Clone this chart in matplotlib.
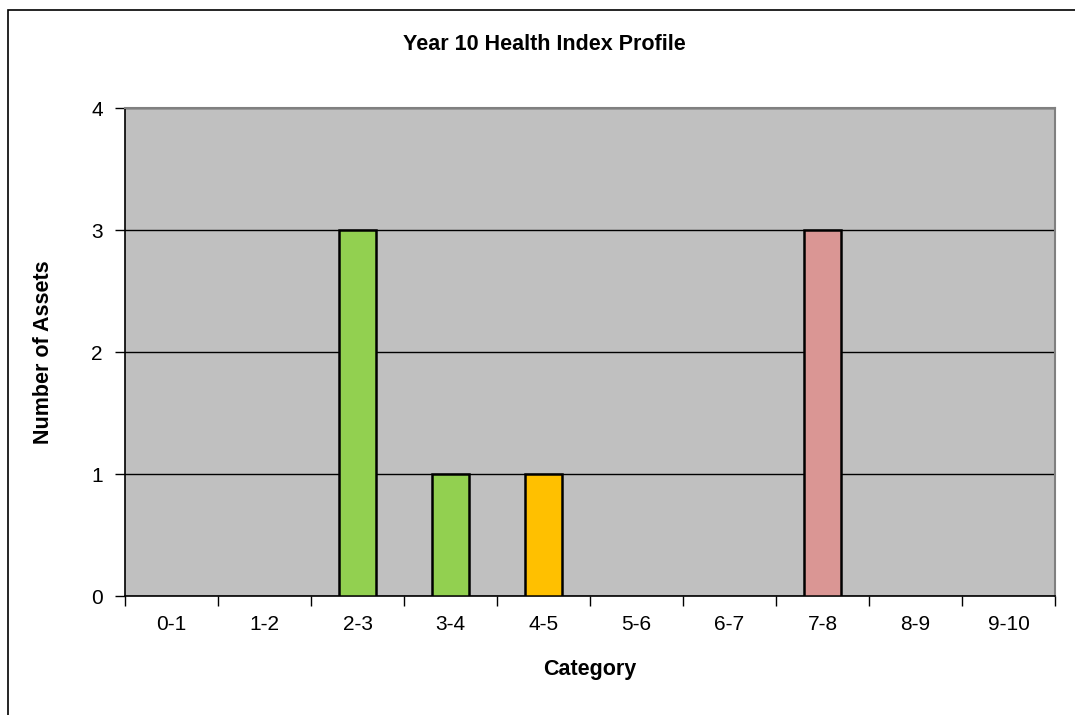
import matplotlib
matplotlib.use("Agg")
import matplotlib.pyplot as plt
from matplotlib.patches import Rectangle

categories = ["0-1", "1-2", "2-3", "3-4", "4-5", "5-6", "6-7", "7-8", "8-9", "9-10"]
counts = [0, 0, 3, 1, 1, 0, 0, 3, 0, 0]
colours = ["#92D050", "#92D050", "#92D050", "#92D050", "#FFC000",
           "#FFC000", "#DA9694", "#DA9694", "#DA9694", "#DA9694"]

plt.rcParams['font.family'] = ['Liberation Sans', 'DejaVu Sans']

fig = plt.figure(figsize=(10.75, 7.15), dpi=100)
ax = fig.add_axes([125/1075, 1 - 596/715, 930/1075, 488/715])

# outer chart frame
fig.patches.append(Rectangle((8/1075, -0.1), 1.2, 0.1 + 1 - 10/715,
                             transform=fig.transFigure, fill=False,
                             edgecolor="black", linewidth=1.2))

x = list(range(len(categories)))
ax.set_facecolor("#C0C0C0")
ax.set_axisbelow(True)
ax.yaxis.grid(True, color="black", linewidth=1)
nz = [i for i in x if counts[i] > 0]
ax.bar([x[i] for i in nz], [counts[i] for i in nz], width=0.4,
       color=[colours[i] for i in nz], edgecolor="black", linewidth=1.8, zorder=3)

ax.set_xlim(-0.5, len(categories) - 0.5)
ax.set_ylim(0, 4)
ax.set_yticks([0, 1, 2, 3, 4])
ax.set_xticks(x)
ax.set_xticklabels(categories)
ax.set_xticks([i - 0.5 for i in range(len(categories) + 1)], minor=True)
ax.tick_params(axis="x", which="major", length=0, labelsize=15, pad=14)
ax.tick_params(axis="x", which="minor", length=7, width=1, direction="out")
ax.tick_params(axis="y", length=7, width=1, direction="out", labelsize=15, pad=9)

for s in ["top", "right"]:
    ax.spines[s].set_color("#808080")
    ax.spines[s].set_linewidth(1.5)
for s in ["left", "bottom"]:
    ax.spines[s].set_color("black")
    ax.spines[s].set_linewidth(1.2)

ax.set_xlabel("Category", fontsize=15.5, fontweight="bold", labelpad=18)
ax.set_ylabel("Number of Assets", fontsize=15.5, fontweight="bold", labelpad=27)
fig.text(544/1075, 1 - 44/715, "Year 10 Health Index Profile",
         fontsize=15.5, fontweight="bold", ha="center", va="center")

fig.savefig("out.png", dpi=100)
